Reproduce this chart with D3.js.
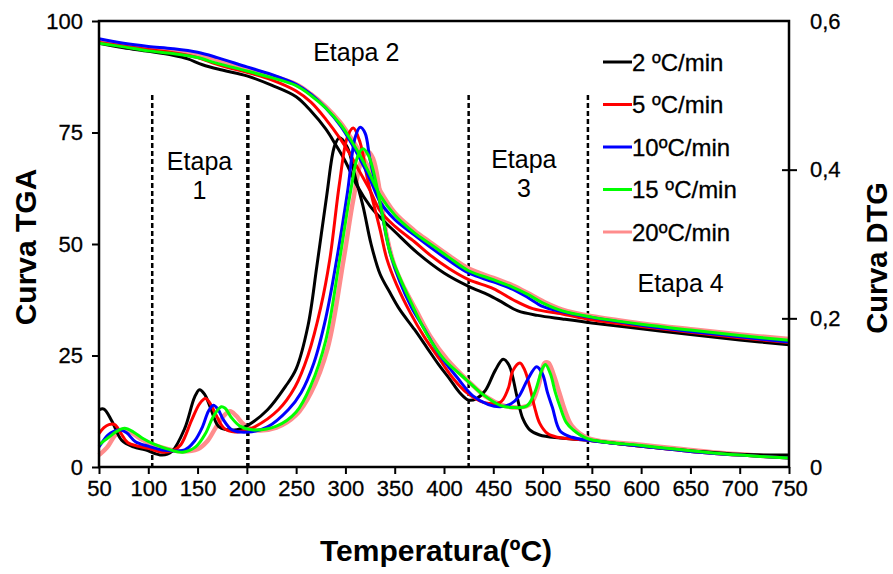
<!DOCTYPE html>
<meta charset="utf-8">
<style>
body { margin: 0; background: #fff; }
text { font-family: "Liberation Sans", Arial, sans-serif; fill: #000; }
.axis text { font-size: 22px; stroke: #000; stroke-width: 0.3px; }
.axis path { display: none; }
.axis line { stroke: #000; stroke-width: 2; }
.title { font-size: 30px; font-weight: bold; }
.etapa { font-size: 25px; }
.legend text { font-size: 24px; stroke: #000; stroke-width: 0.3px; }
.stage { stroke: #000; stroke-width: 2.5; stroke-dasharray: 5,3; }
</style>
<svg width="893" height="574"></svg>
<script src="https://cdn.jsdelivr.net/npm/d3@7"></script>
<script>

// TGA curves (% mass), [temperature, value]
var tga2 = [[50,95.0],[75,94.0],[100,93.2],[125,92.3],[140,91.5],[155,90.2],[175,89.0],[200,87.7],[225,85.6],[250,83.0],[265,79.8],[280,75.8],[290,72.3],[300,68.5],[312,63.0],[325,58.5],[335,56.0],[350,52.8],[373,48.0],[400,43.5],[425,40.5],[445,38.6],[460,36.8],[475,35.0],[495,34.0],[520,33.2],[550,32.3],[600,31.0],[650,29.7],[700,28.5],[750,27.4]];
var tga5 = [[50,95.2],[75,94.4],[100,93.6],[125,92.9],[150,91.8],[165,90.6],[180,89.6],[200,88.5],[225,86.8],[250,84.3],[265,81.8],[280,78.0],[295,73.5],[305,70.0],[315,66.0],[325,62.0],[335,57.5],[350,54.0],[370,50.5],[386,47.5],[405,44.5],[425,42.0],[450,40.0],[470,37.5],[490,35.5],[520,34.3],[550,33.0],[600,31.5],[650,30.2],[700,29.0],[750,27.9]];
var tga10 = [[50,96.0],[75,95.0],[100,94.3],[125,93.8],[150,93.0],[170,91.8],[200,89.7],[225,88.0],[250,85.8],[265,83.6],[280,80.5],[295,76.5],[305,73.0],[315,69.0],[325,64.5],[335,59.5],[350,55.5],[370,52.0],[386,49.3],[405,46.3],[425,43.5],[450,41.5],[470,39.8],[485,38.0],[500,36.0],[520,34.8],[550,33.5],[600,31.8],[650,30.4],[700,29.2],[750,28.0]];
var tga15 = [[50,95.0],[75,94.2],[100,93.3],[125,92.7],[150,91.8],[170,90.5],[200,88.8],[225,87.3],[250,85.5],[265,83.3],[280,80.5],[295,76.8],[305,73.5],[315,69.8],[325,65.5],[335,61.0],[350,56.5],[370,52.5],[386,50.0],[405,47.0],[425,44.0],[450,42.0],[470,40.3],[485,38.7],[500,36.8],[520,35.0],[550,33.6],[600,32.0],[650,30.7],[700,29.5],[750,28.4]];
var tga20 = [[50,95.3],[75,94.5],[100,93.8],[125,93.3],[150,92.6],[170,91.3],[200,89.3],[225,87.7],[250,85.8],[265,83.6],[280,80.8],[295,77.2],[305,74.0],[315,70.5],[325,66.5],[335,62.0],[350,57.0],[370,53.0],[386,50.4],[405,47.4],[425,44.5],[450,42.4],[470,40.7],[485,39.0],[500,37.2],[520,35.3],[550,33.8],[600,32.2],[650,30.9],[700,29.7],[750,28.7]];

// DTG curves, [temperature, value]
var dtg2 = [[50,0.077],[55,0.078],[63,0.062],[73,0.036],[85,0.027],[97,0.023],[114,0.016],[124,0.021],[137,0.052],[147,0.094],[152,0.104],[157,0.098],[163,0.08],[171,0.055],[180,0.050],[190,0.050],[201,0.056],[221,0.077],[239,0.108],[250,0.132],[262,0.19],[271,0.27],[281,0.365],[289,0.432],[294,0.443],[302,0.43],[310,0.39],[318,0.35],[326,0.30],[335,0.26],[345,0.235],[355,0.212],[370,0.185],[383,0.16],[395,0.137],[406,0.118],[416,0.1],[425,0.09],[433,0.092],[442,0.103],[452,0.13],[460,0.145],[466,0.137],[474,0.095],[480,0.065],[487,0.05],[497,0.043],[518,0.039],[546,0.036],[600,0.028],[650,0.022],[700,0.017],[750,0.016]];
var dtg5 = [[50,0.045],[55,0.053],[60,0.057],[66,0.057],[72,0.046],[79,0.033],[90,0.028],[100,0.025],[114,0.02],[125,0.022],[133,0.03],[144,0.063],[152,0.085],[158,0.092],[163,0.085],[168,0.072],[177,0.052],[188,0.047],[200,0.05],[208,0.054],[232,0.077],[249,0.108],[262,0.15],[275,0.215],[284,0.278],[294,0.382],[302,0.444],[308,0.456],[315,0.436],[322,0.39],[335,0.32],[342,0.28],[352,0.245],[366,0.207],[380,0.175],[396,0.144],[410,0.118],[423,0.1],[440,0.087],[457,0.087],[465,0.105],[470,0.13],[477,0.14],[482,0.13],[487,0.108],[492,0.08],[497,0.059],[505,0.045],[515,0.04],[546,0.036],[600,0.028],[650,0.021],[700,0.016],[750,0.012]];
var dtg10 = [[50,0.027],[59,0.043],[65,0.048],[71,0.05],[78,0.046],[87,0.034],[100,0.028],[114,0.023],[137,0.023],[147,0.035],[155,0.054],[161,0.075],[166,0.083],[171,0.077],[176,0.064],[185,0.05],[201,0.047],[221,0.054],[242,0.077],[255,0.1],[268,0.14],[280,0.2],[291,0.278],[302,0.369],[310,0.444],[315,0.457],[320,0.449],[325,0.413],[335,0.355],[345,0.29],[355,0.25],[367,0.215],[379,0.188],[396,0.15],[413,0.121],[429,0.096],[445,0.084],[457,0.081],[468,0.085],[476,0.095],[485,0.118],[494,0.135],[500,0.125],[505,0.1],[510,0.08],[518,0.048],[530,0.04],[546,0.036],[600,0.028],[650,0.021],[700,0.016],[750,0.012]];
var dtg15 = [[50,0.03],[60,0.04],[68,0.048],[76,0.052],[85,0.047],[95,0.038],[107,0.03],[120,0.024],[135,0.02],[148,0.027],[158,0.045],[166,0.068],[174,0.081],[178,0.079],[184,0.067],[193,0.055],[205,0.05],[230,0.055],[250,0.074],[265,0.11],[280,0.17],[294,0.278],[305,0.369],[313,0.42],[318,0.428],[323,0.42],[328,0.4],[338,0.336],[345,0.29],[355,0.255],[367,0.22],[383,0.178],[400,0.145],[423,0.117],[440,0.097],[457,0.083],[470,0.08],[484,0.082],[492,0.1],[500,0.133],[503,0.138],[508,0.125],[513,0.1],[518,0.08],[524,0.06],[531,0.05],[546,0.038],[600,0.029],[650,0.022],[700,0.016],[750,0.012]];
var dtg20 = [[50,0.016],[58,0.026],[66,0.042],[74,0.05],[82,0.047],[92,0.038],[105,0.03],[120,0.024],[135,0.021],[150,0.024],[160,0.035],[168,0.052],[176,0.068],[183,0.075],[189,0.069],[197,0.057],[207,0.05],[230,0.053],[250,0.07],[265,0.1],[282,0.16],[298,0.278],[308,0.36],[317,0.415],[323,0.424],[328,0.415],[335,0.37],[342,0.31],[350,0.27],[360,0.24],[372,0.21],[386,0.176],[403,0.145],[425,0.115],[442,0.095],[460,0.083],[475,0.08],[488,0.085],[496,0.11],[502,0.14],[506,0.14],[511,0.125],[517,0.1],[523,0.075],[530,0.055],[546,0.039],[600,0.03],[650,0.023],[700,0.017],[750,0.013]];

var labels = ["2 ºC/min", "5 ºC/min", "10ºC/min", "15 ºC/min", "20ºC/min"];
var colors = ["#000000", "#ff0000", "#0000ff", "#00ff00", "#ff8c8c"];
var tgaSeries = [tga2, tga5, tga10, tga15, tga20];
var dtgSeries = [dtg2, dtg5, dtg10, dtg15, dtg20];

var xTicks = [50,100,150,200,250,300,350,400,450,500,550,600,650,700,750];
var tgaTicks = [0,25,50,75,100];
var dtgTicks = [0,0.2,0.4,0.6];
var stageLines = [104, 201, 425, 546];

var svg = d3.select("svg"),
    margin = {top: 21, right: 104, bottom: 107, left: 99},
    width = +svg.attr("width") - margin.left - margin.right,
    height = +svg.attr("height") - margin.top - margin.bottom;

var x = d3.scaleLinear().domain([50, 750]).range([0, width]),
    yL = d3.scaleLinear().domain([0, 100]).range([height, 0]),
    yR = d3.scaleLinear().domain([0, 0.6]).range([height, 0]);

var g = svg.append("g")
    .attr("transform", "translate(" + margin.left + "," + margin.top + ")");

// stage separators
g.selectAll(".stage")
  .data(stageLines)
  .enter().append("line")
    .attr("class", "stage")
    .attr("x1", function(d) { return x(d); })
    .attr("x2", function(d) { return x(d); })
    .attr("y1", 74)
    .attr("y2", height)
    .style("stroke-width", function(d) { return d === 201 ? 3.5 : 2.5; });

var lineT = d3.line().curve(d3.curveCatmullRom)
    .x(function(d) { return x(d[0]); })
    .y(function(d) { return yL(d[1]); });
var lineD = d3.line().curve(d3.curveCatmullRom)
    .x(function(d) { return x(d[0]); })
    .y(function(d) { return yR(d[1]); });

// pink drawn first and slightly wider, the rest on top
var order = [4, 0, 1, 2, 3];
order.forEach(function(i) {
  var w = i === 4 ? 4.5 : 3;
  g.append("path").datum(tgaSeries[i])
    .attr("fill", "none").attr("stroke", colors[i]).attr("stroke-width", w)
    .attr("stroke-linejoin", "round").attr("d", lineT);
  g.append("path").datum(dtgSeries[i])
    .attr("fill", "none").attr("stroke", colors[i]).attr("stroke-width", w)
    .attr("stroke-linejoin", "round").attr("d", lineD);
});

// axes
g.append("g")
    .attr("class", "axis axis--x")
    .attr("transform", "translate(0," + height + ")")
    .call(d3.axisBottom(x).tickValues(xTicks).tickSize(7).tickSizeOuter(0).tickPadding(6));

g.append("g")
    .attr("class", "axis axis--y")
    .call(d3.axisLeft(yL).tickValues(tgaTicks).tickSize(7).tickSizeOuter(0).tickPadding(9));

var right = g.append("g")
    .attr("class", "axis axis--y2")
    .attr("transform", "translate(" + width + ",0)")
    .call(d3.axisRight(yR).tickValues(dtgTicks).tickSize(8).tickSizeOuter(0).tickPadding(13)
      .tickFormat(function(d) { return d === 0 ? "0" : d3.format(".1f")(d).replace(".", ","); }));
right.selectAll(".tick line").attr("x1", -7);
right.selectAll(".tick").filter(function(d) { return d === 0 || d === 0.6; }).select("line").remove();

// frame
g.append("rect")
    .attr("width", width).attr("height", height)
    .attr("fill", "none").attr("stroke", "#000").attr("stroke-width", 2.5);

// axis titles
svg.append("text").attr("class", "title")
    .attr("transform", "translate(36,247) rotate(-90)")
    .attr("text-anchor", "middle").text("Curva TGA");
svg.append("text").attr("class", "title")
    .style("font-size", "29px")
    .attr("transform", "translate(887,258) rotate(-90)")
    .attr("text-anchor", "middle").text("Curva DTG");
svg.append("text").attr("class", "title")
    .attr("x", 436).attr("y", 561)
    .attr("text-anchor", "middle").text("Temperatura(ºC)");

// stage labels
var etapas = [
  {t: 152, lines: ["Etapa", "1"], y: 170},
  {t: 311, lines: ["Etapa 2"], y: 61},
  {t: 481, lines: ["Etapa", "3"], y: 168},
  {t: 640, lines: ["Etapa 4"], y: 292}
];
etapas.forEach(function(e) {
  e.lines.forEach(function(s, k) {
    g.append("text").attr("class", "etapa")
      .attr("x", x(e.t)).attr("y", e.y - margin.top + k * 29)
      .attr("text-anchor", "middle").text(s);
  });
});

// legend
var legend = svg.append("g").attr("class", "legend");
labels.forEach(function(l, i) {
  var ly = 62 + i * 42.5;
  legend.append("line")
    .attr("x1", 603).attr("x2", 632).attr("y1", ly).attr("y2", ly)
    .attr("stroke", colors[i]).attr("stroke-width", 3);
  legend.append("text").attr("x", 632).attr("y", ly + 8.5).text(l);
});

</script>
